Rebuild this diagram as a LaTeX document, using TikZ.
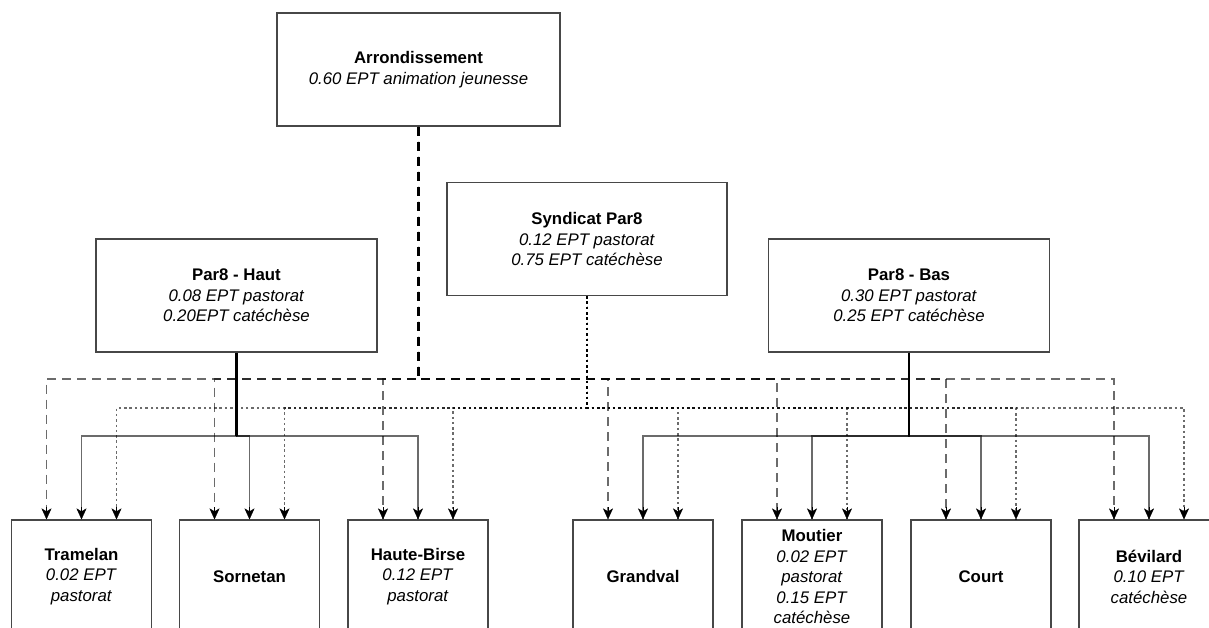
\documentclass[tikz,border=0pt]{standalone}
\usepackage{fontspec}
\setmainfont{Liberation Sans}
\usetikzlibrary{arrows.meta}
\begin{document}
\begin{tikzpicture}[x=1pt,y=-1pt,
  box/.style={draw=black!72, line width=1.2pt, fill=white, rectangle, inner sep=0pt,
    align=center, font=\fontsize{16.8}{20.5}\selectfont},
  bigbox/.style={box, minimum width=281pt, minimum height=113pt},
  smallbox/.style={box, minimum width=140pt, minimum height=113pt},
  edge/.style={draw=black, draw opacity=0.58, line width=1.3pt},
  arredge/.style={edge, dash pattern=on 9pt off 6pt},
  synedge/.style={edge, dash pattern=on 2.5pt off 2.8pt},
  paredge/.style={edge},
  trunk/.style={line width=2.2pt},
  tipmark/.style={draw=black, fill=black, line width=0.3pt,
    -{Stealth[length=11pt,width=10pt,inset=3pt]}}
]
\clip (0,0) rectangle (1209,628);
\fill[white] (0,0) rectangle (1209,628);

\coordinate (lvA) at (0,379);
\coordinate (lvS) at (0,408);
\coordinate (lvP) at (0,436);

% top boxes
\node[bigbox, minimum width=283pt] (arr) at (418.5,69.5)
  {\textbf{Arrondissement}\\\textit{0.60 EPT animation jeunesse}};
\node[bigbox, minimum width=280pt] (syn) at (587,239)
  {\textbf{Syndicat Par8}\\\textit{0.12 EPT pastorat}\\\textit{0.75 EPT catéchèse}};
\node[bigbox] (haut) at (236.5,295.5)
  {\textbf{Par8 - Haut}\\\textit{0.08 EPT pastorat}\\\textit{0.20EPT catéchèse}};
\node[bigbox] (bas) at (909,295.5)
  {\textbf{Par8 - Bas}\\\textit{0.30 EPT pastorat}\\\textit{0.25 EPT catéchèse}};

% bottom boxes
\node[smallbox] (tram) at (81.5,576.5)
  {\textbf{Tramelan}\\\textit{0.02 EPT}\\\textit{pastorat}};
\node[smallbox] (sorn) at (249.5,576.5) {\textbf{Sornetan}};
\node[smallbox] (hb) at (418,576.5)
  {\textbf{Haute-Birse}\\\textit{0.12 EPT}\\\textit{pastorat}};
\node[smallbox] (grand) at (643,576.5) {\textbf{Grandval}};
\node[smallbox] (mout) at (812,576.5)
  {\textbf{Moutier}\\\textit{0.02 EPT}\\\textit{pastorat}\\\textit{0.15 EPT}\\\textit{catéchèse}};
\node[smallbox] (court) at (981,576.5) {\textbf{Court}};
\node[smallbox] (bev) at (1149,576.5)
  {\textbf{Bévilard}\\\textit{0.10 EPT}\\\textit{catéchèse}};

% shared trunks of the connector bundles
\draw[arredge, trunk, draw opacity=1] (arr.south) -- (arr.south |- lvA);
\draw[synedge, trunk, draw opacity=1] (syn.south) -- (syn.south |- lvS);
\draw[paredge, trunk, draw opacity=1] (haut.south) -- (haut.south |- lvP);
\draw[paredge, trunk, draw opacity=1] (bas.south) -- (bas.south |- lvP);

% Arrondissement -> all (dashed), Syndicat -> all (dotted)
\foreach \c in {tram,sorn,hb,grand,mout,court,bev}{
  \draw[arredge] (arr.south) -- (arr.south |- lvA) -| ([xshift=-35pt]\c.north);
  \draw[synedge] (syn.south) -- (syn.south |- lvS) -| ([xshift=35pt]\c.north);
  \draw[tipmark] ([xshift=-35pt,yshift=12pt]\c.north) -- ([xshift=-35pt]\c.north);
  \draw[tipmark] ([xshift=35pt,yshift=12pt]\c.north) -- ([xshift=35pt]\c.north);
  \draw[tipmark] ([yshift=12pt]\c.north) -- (\c.north);
}
% Par8 - Haut -> its parishes
\foreach \c in {tram,sorn,hb}{
  \draw[paredge] (haut.south) -- (haut.south |- lvP) -| (\c.north);
}
% Par8 - Bas -> its parishes
\foreach \c in {grand,mout,court,bev}{
  \draw[paredge] (bas.south) -- (bas.south |- lvP) -| (\c.north);
}
\end{tikzpicture}
\end{document}
